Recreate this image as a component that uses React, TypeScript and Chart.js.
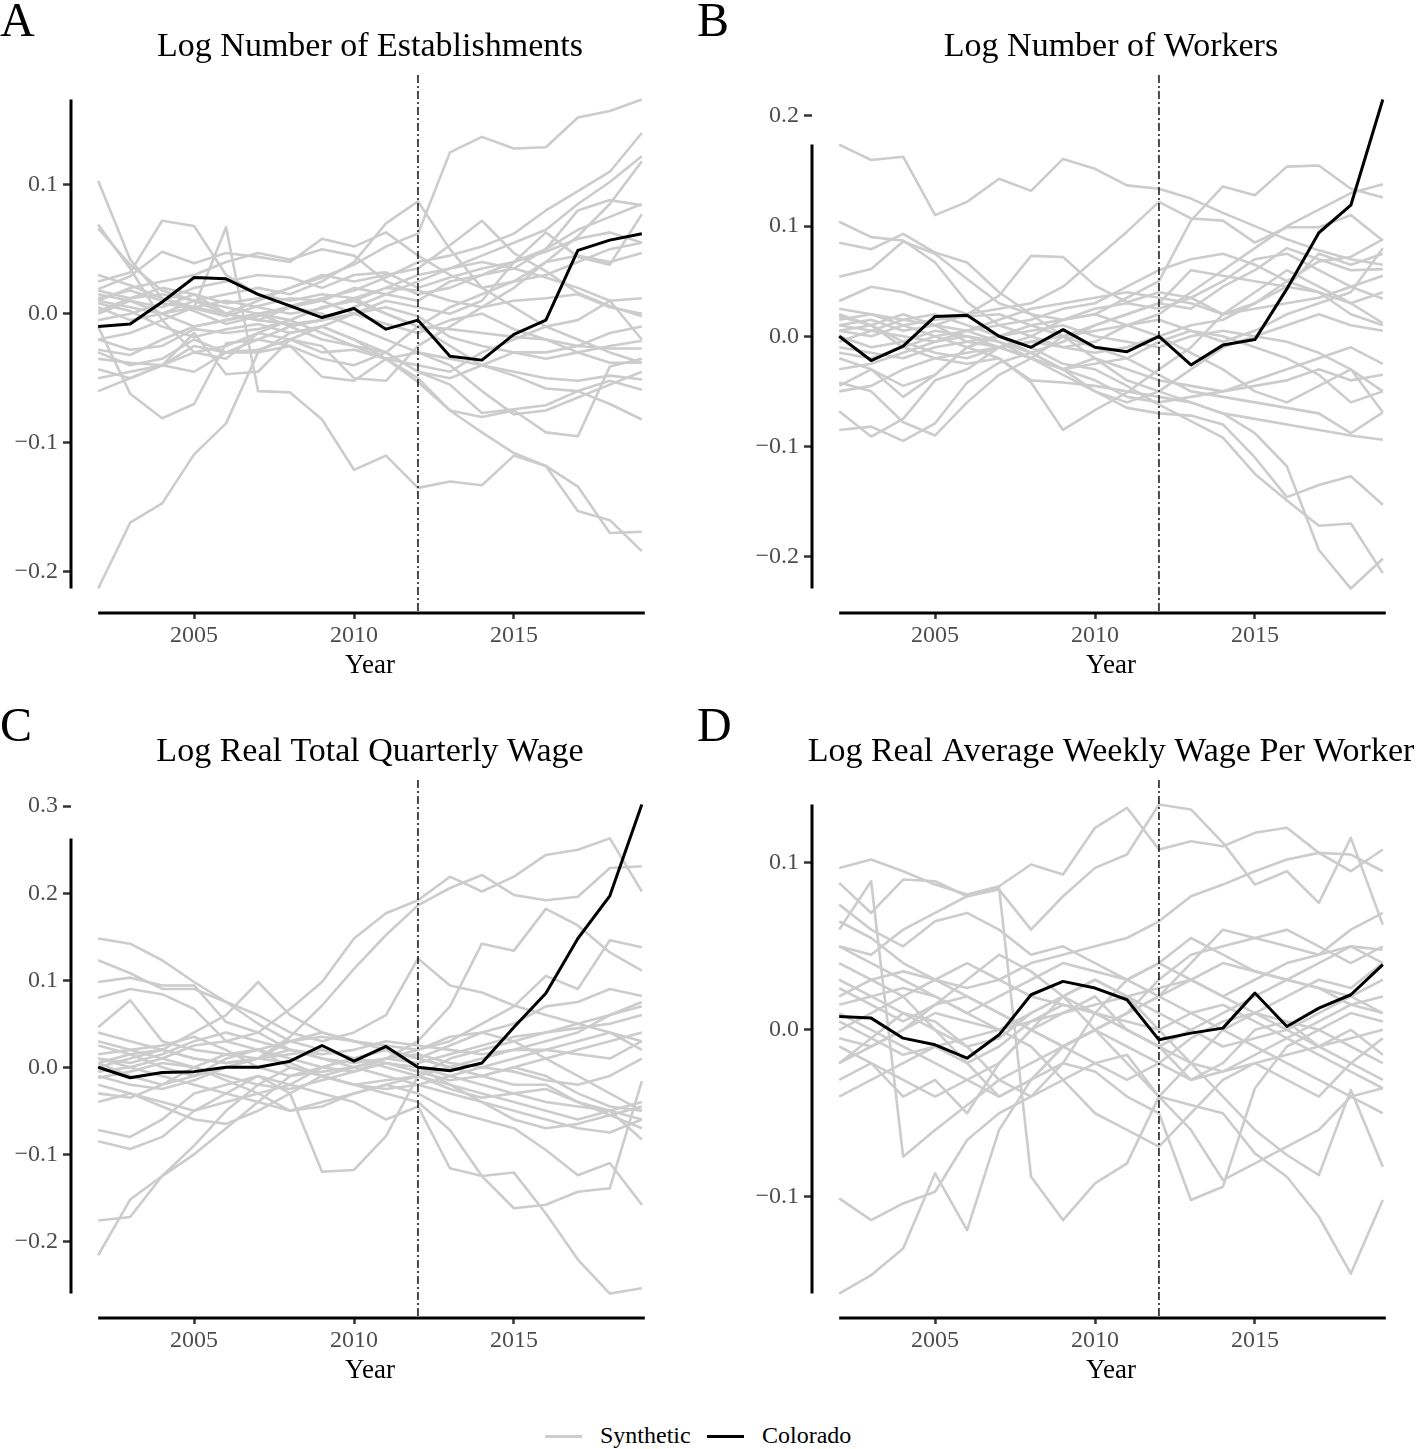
import React, { useEffect, useRef } from "react";
import { Chart, registerables } from "chart.js";

Chart.register(...registerables);

const years = [2002, 2003, 2004, 2005, 2006, 2007, 2008, 2009, 2010, 2011, 2012, 2013, 2014, 2015, 2016, 2017, 2018, 2019];
const treatmentYear = 2012;
const xTickValues = [2005, 2010, 2015];

const titleA = "Log Number of Establishments";
const titleB = "Log Number of Workers";
const titleC = "Log Real Total Quarterly Wage";
const titleD = "Log Real Average Weekly Wage Per Worker";

const yTicksA = [-0.2, -0.1, 0, 0.1];
const yTicksB = [-0.2, -0.1, 0, 0.1, 0.2];
const yTicksC = [-0.2, -0.1, 0, 0.1, 0.2, 0.3];
const yTicksD = [-0.1, 0, 0.1];

const legendLabels = ["Synthetic", "Colorado"];

const coloradoA = [-0.010, -0.008, 0.009, 0.028, 0.027, 0.015, 0.006, -0.003, 0.004, -0.012, -0.005, -0.033, -0.036, -0.016, -0.005, 0.049, 0.057, 0.062];
const syntheticA = [
  [0.018, 0.012, 0.020, 0.015, 0.008, 0.012, 0.020, 0.028, 0.038, 0.052, 0.062, 0.125, 0.137, 0.128, 0.129, 0.152, 0.157, 0.166],
  [0.103, 0.042, 0.012, 0.002, -0.008, -0.002, 0.006, 0.012, 0.018, 0.028, 0.040, 0.045, 0.052, 0.062, 0.080, 0.095, 0.110, 0.140],
  [0.069, 0.035, -0.005, -0.030, -0.035, -0.015, -0.005, 0.005, 0.010, 0.020, 0.030, 0.035, 0.045, 0.055, 0.065, 0.085, 0.102, 0.122],
  [0.066, 0.038, 0.018, 0.010, 0.005, 0.000, -0.010, -0.020, -0.025, -0.035, -0.053, -0.075, -0.092, -0.108, -0.118, -0.153, -0.160, -0.184],
  [0.025, 0.032, 0.072, 0.068, 0.030, 0.015, 0.010, 0.015, 0.012, 0.000, -0.010, -0.025, -0.040, -0.048, -0.058, -0.060, -0.052, -0.059],
  [0.019, 0.029, 0.048, 0.039, 0.047, 0.044, 0.040, 0.058, 0.052, 0.063, 0.045, 0.030, 0.020, 0.025, 0.040, 0.045, 0.040, 0.047],
  [-0.020, -0.015, -0.005, 0.005, 0.067, -0.060, -0.061, -0.082, -0.121, -0.110, -0.135, -0.130, -0.133, -0.110, -0.118, -0.134, -0.170, -0.169],
  [-0.213, -0.162, -0.147, -0.109, -0.085, -0.030, -0.015, -0.010, -0.020, -0.030, -0.045, -0.050, -0.040, -0.030, -0.035, -0.030, -0.025, -0.021],
  [0.010, 0.005, 0.000, 0.010, 0.015, 0.020, 0.015, 0.025, 0.040, 0.070, 0.087, 0.050, 0.020, 0.005, -0.010, -0.020, -0.030, -0.038],
  [0.005, -0.005, 0.000, 0.005, 0.000, 0.010, 0.020, 0.030, 0.025, 0.030, 0.035, 0.053, 0.072, 0.047, 0.033, 0.016, 0.006, -0.002],
  [-0.010, -0.062, -0.081, -0.070, -0.023, -0.020, -0.010, -0.005, 0.000, 0.010, 0.005, 0.000, 0.010, 0.040, 0.050, 0.080, 0.088, 0.084],
  [-0.043, -0.050, -0.040, -0.030, -0.025, -0.015, -0.020, -0.030, -0.028, -0.035, -0.040, -0.045, -0.030, -0.020, -0.010, -0.005, 0.010, 0.012],
  [-0.060, -0.050, -0.040, -0.015, -0.047, -0.045, -0.020, -0.025, -0.050, -0.052, -0.025, -0.010, 0.005, 0.020, 0.040, 0.060, 0.085, 0.118],
  [0.000, 0.010, 0.005, 0.015, 0.000, -0.005, 0.005, 0.010, 0.020, 0.015, 0.010, 0.025, 0.030, 0.040, 0.063, 0.044, 0.038, 0.077],
  [0.012, 0.018, 0.010, 0.020, 0.025, 0.030, 0.028, 0.020, 0.030, 0.032, 0.020, 0.028, 0.035, 0.040, 0.048, 0.058, 0.063, 0.055],
  [-0.005, 0.000, 0.008, 0.004, -0.002, 0.006, 0.012, 0.010, 0.000, -0.008, -0.015, -0.005, 0.000, -0.012, -0.020, -0.025, -0.015, -0.010],
  [0.008, 0.002, -0.010, -0.018, -0.012, -0.008, -0.015, -0.010, 0.000, 0.005, -0.002, -0.018, -0.025, -0.030, -0.030, -0.025, -0.027, -0.027],
  [-0.028, -0.032, -0.020, -0.010, -0.005, 0.000, 0.005, 0.000, -0.010, -0.020, -0.030, -0.040, -0.060, -0.078, -0.075, -0.065, -0.055, -0.045],
  [-0.030, -0.040, -0.035, -0.020, -0.030, -0.028, -0.020, -0.010, -0.020, -0.035, -0.050, -0.075, -0.080, -0.075, -0.092, -0.095, -0.041, -0.035],
  [0.015, 0.010, 0.000, -0.010, -0.005, 0.000, -0.005, -0.015, -0.025, -0.030, -0.045, -0.055, -0.077, -0.074, -0.071, -0.060, -0.070, -0.082],
  [-0.035, -0.038, -0.040, -0.025, -0.030, -0.030, -0.025, -0.035, -0.040, -0.030, -0.010, 0.005, 0.015, 0.025, 0.030, 0.040, 0.050, 0.055],
  [0.002, 0.012, 0.015, 0.010, 0.000, -0.005, -0.008, -0.005, 0.005, 0.015, 0.025, 0.035, 0.040, 0.035, 0.028, 0.020, 0.010, -0.020],
  [-0.020, -0.028, -0.025, -0.012, -0.015, -0.012, -0.005, 0.005, 0.010, 0.000, -0.010, -0.012, -0.015, -0.018, -0.020, -0.030, -0.038, -0.038],
  [0.030, 0.022, 0.012, 0.005, 0.010, 0.005, 0.000, 0.004, 0.012, 0.020, 0.018, 0.010, 0.005, 0.010, 0.012, 0.015, 0.005, 0.000],
  [0.010, 0.020, 0.025, 0.030, 0.040, 0.047, 0.042, 0.050, 0.045, 0.025, 0.015, 0.020, 0.030, 0.035, 0.050, 0.065, 0.075, 0.085],
  [-0.050, -0.045, -0.040, -0.045, -0.030, -0.020, -0.025, -0.049, -0.052, -0.035, -0.030, -0.035, -0.040, -0.045, -0.050, -0.052, -0.048, -0.051],
];

const coloradoB = [0.000, -0.022, -0.009, 0.018, 0.019, 0.000, -0.010, 0.006, -0.010, -0.014, 0.000, -0.026, -0.008, -0.003, 0.043, 0.094, 0.119, 0.215];
const syntheticB = [
  [0.174, 0.160, 0.163, 0.110, 0.122, 0.143, 0.132, 0.161, 0.152, 0.137, 0.134, 0.125, 0.112, 0.100, 0.088, 0.078, 0.070, 0.065],
  [0.104, 0.090, 0.087, 0.067, 0.031, 0.010, 0.000, -0.010, -0.005, 0.010, 0.020, 0.040, 0.060, 0.080, 0.100, 0.115, 0.130, 0.138],
  [0.085, 0.079, 0.093, 0.076, 0.067, 0.040, 0.020, 0.000, -0.020, -0.040, -0.050, -0.060, -0.070, -0.075, -0.080, -0.085, -0.090, -0.094],
  [0.054, 0.061, 0.086, 0.075, 0.052, 0.030, 0.020, 0.015, 0.020, 0.035, 0.050, 0.105, 0.136, 0.128, 0.154, 0.155, 0.134, 0.126],
  [0.032, 0.045, 0.040, 0.030, 0.020, 0.025, 0.030, 0.045, 0.070, 0.095, 0.122, 0.107, 0.105, 0.085, 0.099, 0.099, 0.110, 0.087],
  [0.010, 0.015, 0.005, 0.010, 0.020, 0.037, 0.073, 0.072, 0.046, 0.031, 0.040, 0.035, 0.020, 0.030, 0.045, 0.075, 0.065, 0.075],
  [-0.085, -0.082, -0.095, -0.079, -0.042, -0.024, -0.015, -0.005, 0.010, 0.020, 0.030, 0.025, 0.045, 0.060, 0.080, 0.070, 0.060, 0.061],
  [-0.068, -0.091, -0.075, -0.040, -0.030, -0.010, -0.020, -0.030, -0.020, -0.030, -0.040, -0.045, -0.050, -0.045, -0.040, -0.030, -0.040, -0.035],
  [-0.042, -0.050, -0.078, -0.090, -0.060, -0.035, -0.020, 0.000, 0.010, 0.020, 0.030, 0.060, 0.055, 0.050, 0.045, 0.040, 0.030, 0.012],
  [-0.045, -0.030, -0.055, -0.035, -0.010, 0.000, -0.010, -0.025, -0.030, -0.045, -0.062, -0.077, -0.092, -0.125, -0.149, -0.172, -0.170, -0.215],
  [0.020, 0.010, -0.010, -0.020, -0.025, -0.020, -0.040, -0.042, -0.045, -0.050, -0.055, -0.060, -0.070, -0.088, -0.118, -0.194, -0.229, -0.202],
  [0.000, -0.010, -0.005, 0.005, 0.000, -0.010, -0.020, -0.030, -0.050, -0.065, -0.070, -0.072, -0.080, -0.110, -0.146, -0.135, -0.127, -0.153],
  [0.015, 0.020, 0.010, 0.000, -0.010, -0.020, -0.042, -0.085, -0.067, -0.051, -0.030, -0.010, 0.020, 0.040, 0.060, 0.045, 0.030, 0.040],
  [0.005, 0.000, 0.010, 0.015, 0.018, 0.020, 0.010, 0.000, -0.010, -0.020, -0.035, -0.050, -0.055, -0.060, -0.065, -0.070, -0.088, -0.069],
  [-0.020, -0.030, -0.045, -0.035, -0.010, 0.000, 0.010, 0.015, 0.025, 0.030, 0.025, 0.035, 0.050, 0.070, 0.075, 0.060, 0.045, 0.055],
  [0.010, 0.005, 0.000, -0.005, 0.005, 0.015, 0.025, 0.030, 0.035, 0.040, 0.035, 0.030, 0.020, 0.025, 0.030, 0.035, 0.045, 0.034],
  [-0.010, -0.015, -0.020, -0.010, -0.005, 0.000, 0.005, 0.010, 0.000, -0.005, -0.010, 0.000, 0.005, 0.000, 0.010, 0.020, 0.010, 0.005],
  [-0.030, -0.025, -0.015, -0.005, 0.000, -0.005, -0.015, -0.030, -0.040, -0.055, -0.060, -0.055, -0.050, -0.040, -0.030, -0.020, -0.010, -0.025],
  [0.025, 0.020, 0.015, 0.010, 0.005, 0.010, 0.015, 0.025, 0.030, 0.045, 0.060, 0.070, 0.075, 0.065, 0.050, 0.040, 0.020, 0.010],
  [-0.005, 0.005, 0.015, 0.020, 0.010, 0.000, -0.015, -0.030, -0.025, -0.020, -0.005, 0.005, 0.000, -0.010, -0.020, -0.035, -0.060, -0.050],
  [0.018, 0.010, -0.005, -0.015, -0.020, -0.010, 0.000, 0.015, 0.020, 0.010, 0.000, -0.015, -0.030, -0.050, -0.060, -0.045, -0.030, -0.069],
  [-0.050, -0.045, -0.030, -0.020, -0.015, -0.010, -0.005, -0.010, -0.015, -0.010, 0.000, 0.010, 0.015, 0.030, 0.050, 0.068, 0.072, 0.088],
  [0.005, 0.010, 0.020, 0.010, -0.005, -0.010, -0.005, 0.000, 0.005, 0.010, 0.015, 0.005, -0.005, 0.005, 0.020, 0.030, 0.040, 0.080],
  [-0.015, -0.020, -0.010, 0.000, 0.005, -0.005, -0.020, -0.035, -0.050, -0.060, -0.050, -0.030, -0.010, 0.000, -0.005, -0.015, -0.030, -0.050],
];

const coloradoC = [0.000, -0.012, -0.006, -0.005, 0.000, 0.000, 0.007, 0.025, 0.007, 0.024, 0.000, -0.004, 0.005, 0.046, 0.085, 0.148, 0.197, 0.302];
const syntheticC = [
  [0.148, 0.142, 0.123, 0.098, 0.075, 0.050, 0.030, 0.020, 0.010, 0.020, 0.000, -0.010, -0.020, -0.030, -0.040, -0.045, -0.050, -0.083],
  [0.123, 0.108, 0.090, 0.090, 0.075, 0.060, 0.040, 0.030, 0.040, 0.060, 0.125, 0.094, 0.086, 0.071, 0.060, 0.050, 0.040, 0.030],
  [0.098, 0.103, 0.094, 0.094, 0.052, 0.040, 0.020, 0.010, 0.000, -0.010, -0.020, -0.030, -0.040, -0.050, -0.060, -0.070, -0.075, -0.060],
  [0.080, 0.090, 0.084, 0.067, 0.030, 0.040, 0.067, 0.098, 0.148, 0.177, 0.192, 0.219, 0.202, 0.219, 0.244, 0.250, 0.263, 0.202],
  [0.046, 0.077, 0.030, 0.020, 0.015, 0.010, 0.035, 0.071, 0.113, 0.152, 0.186, 0.206, 0.221, 0.198, 0.192, 0.196, 0.229, 0.231],
  [-0.216, -0.152, -0.125, -0.100, -0.070, -0.040, -0.010, 0.000, 0.010, 0.020, 0.010, 0.000, -0.010, -0.020, -0.020, -0.040, -0.050, -0.060],
  [-0.176, -0.172, -0.125, -0.090, -0.050, -0.020, 0.000, -0.010, -0.020, -0.030, -0.040, -0.072, -0.125, -0.162, -0.158, -0.143, -0.139, -0.016],
  [-0.072, -0.080, -0.060, -0.030, -0.020, -0.010, -0.030, -0.120, -0.118, -0.079, -0.010, 0.010, 0.020, 0.030, 0.040, 0.050, 0.060, 0.075],
  [-0.085, -0.094, -0.080, -0.050, -0.030, -0.010, -0.020, -0.030, -0.040, -0.060, -0.045, -0.116, -0.125, -0.121, -0.168, -0.221, -0.260, -0.254],
  [0.010, 0.000, -0.010, -0.020, -0.030, -0.040, -0.050, -0.040, -0.030, -0.020, -0.030, -0.050, -0.060, -0.070, -0.095, -0.124, -0.110, -0.158],
  [0.030, 0.020, 0.025, 0.035, 0.020, 0.000, -0.010, -0.005, 0.000, 0.010, 0.030, 0.070, 0.142, 0.134, 0.182, 0.163, 0.132, 0.111],
  [0.010, 0.005, 0.015, 0.030, 0.040, 0.030, 0.020, 0.010, 0.005, 0.010, 0.020, 0.030, 0.050, 0.070, 0.105, 0.090, 0.146, 0.138],
  [-0.010, -0.020, -0.025, -0.015, 0.000, 0.010, 0.030, 0.040, 0.030, 0.020, 0.010, 0.025, 0.040, 0.050, 0.070, 0.075, 0.090, 0.082],
  [0.015, 0.020, 0.010, 0.000, -0.015, -0.030, -0.050, -0.045, -0.030, -0.020, -0.010, 0.000, 0.010, 0.020, 0.020, 0.030, 0.040, 0.020],
  [-0.005, 0.000, 0.010, 0.025, 0.030, 0.020, 0.000, -0.010, -0.020, -0.015, -0.010, -0.020, -0.030, -0.040, -0.050, -0.060, -0.050, -0.040],
  [0.005, 0.015, 0.020, 0.010, 0.005, 0.010, 0.015, 0.020, 0.010, 0.000, -0.010, -0.025, -0.035, -0.030, -0.025, -0.040, -0.055, -0.070],
  [-0.020, -0.030, -0.040, -0.050, -0.040, -0.030, -0.020, 0.000, 0.010, 0.005, -0.005, -0.015, -0.010, 0.000, -0.010, -0.030, -0.045, -0.050],
  [-0.030, -0.035, -0.020, 0.000, 0.015, 0.020, 0.010, 0.000, -0.005, 0.010, 0.015, 0.005, 0.000, 0.010, 0.020, 0.015, 0.010, 0.030],
  [0.025, 0.015, 0.000, -0.010, 0.000, 0.010, 0.005, -0.010, -0.020, -0.025, -0.020, -0.010, 0.000, -0.005, -0.015, -0.020, -0.010, 0.010],
  [0.000, 0.010, 0.020, 0.040, 0.060, 0.098, 0.060, 0.040, 0.030, 0.020, 0.010, 0.000, -0.010, 0.000, 0.010, 0.020, 0.030, 0.040],
  [-0.040, -0.030, -0.045, -0.060, -0.065, -0.050, -0.030, -0.010, 0.000, 0.010, 0.005, 0.015, 0.025, 0.035, 0.040, 0.045, 0.050, 0.060],
  [0.005, -0.010, -0.020, -0.010, 0.010, 0.020, 0.030, 0.035, 0.030, 0.025, 0.020, 0.035, 0.040, 0.030, 0.010, -0.010, -0.030, -0.050],
  [-0.012, -0.005, 0.005, 0.000, -0.010, -0.020, -0.025, -0.015, -0.005, 0.005, 0.000, -0.020, -0.040, -0.060, -0.070, -0.065, -0.055, -0.045],
  [0.040, 0.030, 0.020, 0.010, 0.005, 0.010, 0.020, 0.015, 0.020, 0.030, 0.025, 0.020, 0.015, 0.020, 0.030, 0.040, 0.060, 0.070],
];

const coloradoD = [0.008, 0.007, -0.005, -0.009, -0.017, -0.003, 0.021, 0.029, 0.025, 0.018, -0.006, -0.002, 0.001, 0.022, 0.002, 0.013, 0.021, 0.039];
const syntheticD = [
  [0.097, 0.102, 0.095, 0.087, 0.081, 0.086, 0.099, 0.093, 0.121, 0.133, 0.108, 0.113, 0.110, 0.118, 0.121, 0.106, 0.095, 0.108],
  [0.088, 0.070, 0.090, 0.089, 0.080, 0.084, 0.060, 0.080, 0.097, 0.105, 0.135, 0.132, 0.112, 0.087, 0.095, 0.076, 0.115, 0.063],
  [0.060, 0.089, -0.076, -0.060, -0.045, -0.030, -0.020, -0.010, 0.000, 0.010, 0.020, 0.030, 0.040, 0.035, 0.030, 0.025, 0.020, 0.010],
  [0.050, 0.045, 0.060, 0.070, 0.080, 0.085, -0.088, -0.114, -0.092, -0.080, -0.040, -0.020, 0.000, 0.010, 0.020, 0.030, 0.025, 0.040],
  [-0.158, -0.147, -0.131, -0.086, -0.120, -0.060, -0.030, -0.010, 0.000, -0.010, -0.020, -0.030, -0.025, -0.020, -0.015, -0.010, -0.005, 0.000],
  [-0.101, -0.114, -0.104, -0.097, -0.066, -0.050, -0.040, -0.030, -0.020, -0.015, -0.040, -0.060, -0.090, -0.080, -0.070, -0.060, -0.040, -0.035],
  [0.010, 0.000, -0.010, -0.020, -0.030, -0.040, -0.030, -0.020, -0.025, -0.040, -0.050, -0.102, -0.094, -0.035, -0.010, 0.000, 0.010, 0.005],
  [-0.020, -0.010, 0.000, 0.010, 0.005, 0.000, 0.010, 0.020, 0.000, -0.020, -0.040, -0.045, -0.050, -0.074, -0.088, -0.112, -0.146, -0.102],
  [0.030, 0.020, 0.010, 0.000, -0.010, -0.005, 0.010, 0.020, 0.030, 0.020, 0.000, -0.020, -0.040, -0.060, -0.075, -0.087, -0.036, -0.082],
  [0.020, 0.030, 0.035, 0.030, 0.025, 0.030, 0.040, 0.045, 0.050, 0.055, 0.065, 0.080, 0.087, 0.095, 0.102, 0.106, 0.105, 0.095],
  [0.065, 0.055, 0.040, 0.030, 0.020, 0.010, 0.000, -0.010, 0.000, 0.010, 0.020, 0.040, 0.060, 0.055, 0.050, 0.045, 0.060, 0.070],
  [0.075, 0.060, 0.050, 0.065, 0.070, 0.060, 0.045, 0.050, 0.040, 0.030, 0.040, 0.055, 0.045, 0.035, 0.030, 0.040, 0.050, 0.040],
  [-0.040, -0.030, -0.020, -0.010, -0.005, 0.000, 0.005, 0.010, 0.015, 0.020, 0.025, 0.030, 0.020, 0.010, 0.005, 0.000, -0.010, -0.020],
  [0.000, 0.010, 0.020, 0.030, 0.040, 0.030, 0.020, 0.015, 0.010, 0.000, -0.010, 0.000, 0.010, 0.020, 0.030, 0.025, 0.015, 0.010],
  [-0.010, -0.020, -0.030, -0.040, -0.030, -0.020, 0.000, 0.020, 0.030, 0.020, 0.010, 0.000, -0.010, -0.005, 0.000, 0.010, 0.020, 0.030],
  [0.040, 0.030, 0.020, 0.000, -0.020, -0.040, -0.030, -0.010, 0.000, 0.010, 0.030, 0.045, 0.050, 0.055, 0.060, 0.050, 0.040, 0.050],
  [-0.030, -0.020, -0.040, -0.030, -0.050, -0.020, 0.000, 0.010, 0.020, 0.000, -0.010, -0.030, -0.020, 0.000, 0.005, -0.010, -0.020, -0.005],
  [0.015, 0.020, 0.025, 0.020, 0.010, 0.020, 0.030, 0.040, 0.035, 0.030, 0.020, 0.010, 0.000, -0.010, -0.020, -0.030, -0.040, -0.050],
  [-0.005, -0.010, 0.000, 0.015, 0.020, 0.010, 0.000, -0.010, -0.020, -0.030, -0.020, -0.005, 0.005, 0.010, 0.000, -0.010, 0.000, -0.015],
  [0.050, 0.040, 0.030, 0.020, 0.010, 0.000, -0.010, -0.030, -0.050, -0.060, -0.070, -0.050, -0.030, -0.020, -0.030, -0.040, -0.020, -0.030],
  [-0.020, -0.005, 0.010, 0.005, -0.010, -0.030, -0.040, -0.020, 0.010, 0.030, 0.040, 0.030, 0.020, 0.030, 0.040, 0.045, 0.050, 0.048],
  [0.005, -0.005, -0.015, -0.010, -0.020, -0.010, 0.005, 0.015, 0.010, 0.005, 0.000, 0.010, 0.015, 0.005, -0.005, -0.015, -0.025, -0.035],
  [0.025, 0.015, 0.005, 0.015, 0.030, 0.045, 0.035, 0.020, 0.010, 0.000, -0.010, -0.020, -0.025, -0.015, -0.005, 0.005, 0.015, 0.020],
];

const SERIF = "'Liberation Serif', 'Times New Roman', serif";
const GRAY = "#cccccc";

type PanelCfg = {
  letter: string;
  title: string;
  colorado: number[];
  synthetic: number[][];
  yTicks: number[];
  left: number;
  top: number;
  width: number;
  padLeft: number;
  padRight: number;
};

const toXY = (vals: number[]) => years.map((x, i) => ({ x, y: vals[i] }));

const fmtY = (v: number) => {
  if (Math.abs(v) < 1e-9) return "0.0";
  return (v < 0 ? "\u2212" : "") + Math.abs(v).toFixed(1);
};

const framePlugin = {
  id: "frame",
  afterDatasetsDraw(chart: any) {
    const o = chart.options.plugins.frame;
    const { ctx, chartArea, scales } = chart;
    const xs = scales.x;
    const ys = scales.y;
    ctx.save();
    const vx = xs.getPixelForValue(o.vline);
    ctx.strokeStyle = "#000";
    ctx.lineWidth = 1.4;
    ctx.setLineDash([8, 3, 2, 3]);
    ctx.beginPath();
    ctx.moveTo(vx, chartArea.top);
    ctx.lineTo(vx, chartArea.bottom);
    ctx.stroke();
    ctx.setLineDash([]);
    ctx.lineWidth = 3;
    ctx.lineCap = "butt";
    ctx.beginPath();
    ctx.moveTo(chartArea.left, ys.getPixelForValue(o.frameMax));
    ctx.lineTo(chartArea.left, ys.getPixelForValue(o.frameMin));
    ctx.stroke();
    ctx.beginPath();
    ctx.moveTo(xs.getPixelForValue(o.xFirst), chartArea.bottom);
    ctx.lineTo(xs.getPixelForValue(o.xLast) + 3, chartArea.bottom);
    ctx.stroke();
    const cx = (chartArea.left + chartArea.right) / 2;
    ctx.fillStyle = "#000";
    ctx.textAlign = "center";
    ctx.textBaseline = "alphabetic";
    ctx.font = `34px ${SERIF}`;
    ctx.fillText(o.title, cx, 56);
    ctx.font = `27px ${SERIF}`;
    ctx.fillText("Year", cx, chartArea.bottom + 60);
    ctx.textAlign = "left";
    ctx.font = `48px ${SERIF}`;
    ctx.fillText(o.letter, 0, 36);
    ctx.restore();
  },
};

function Panel({ cfg }: { cfg: PanelCfg }) {
  const ref = useRef<HTMLCanvasElement | null>(null);
  useEffect(() => {
    if (!ref.current) return;
    const all = [...cfg.colorado, ...cfg.synthetic.flat()];
    const dMin = Math.min(...all);
    const dMax = Math.max(...all);
    const pad = (dMax - dMin) * 0.05;
    const gAll = cfg.synthetic.flat();
    const xPad = (years[years.length - 1] - years[0]) * 0.05;
    const datasets: any[] = [
      {
        label: legendLabels[1],
        data: toXY(cfg.colorado),
        borderColor: "#000000",
        borderWidth: 3,
        pointRadius: 0,
        borderJoinStyle: "round",
        tension: 0,
      },
      ...cfg.synthetic.map((s) => ({
        label: legendLabels[0],
        data: toXY(s),
        borderColor: GRAY,
        borderWidth: 2.6,
        pointRadius: 0,
        borderJoinStyle: "round",
        tension: 0,
      })),
    ];
    const tickFont = { family: SERIF, size: 24 };
    const chart = new Chart(ref.current, {
      type: "line",
      data: { datasets },
      options: {
        responsive: false,
        animation: false,
        devicePixelRatio: 1,
        layout: { padding: { left: cfg.padLeft, right: cfg.padRight, top: 75, bottom: 0 } },
        plugins: {
          legend: { display: false },
          tooltip: { enabled: false },
          title: { display: false },
          frame: {
            vline: treatmentYear,
            frameMin: Math.min(...gAll),
            frameMax: Math.max(...gAll),
            xFirst: years[0],
            xLast: years[years.length - 1],
            title: cfg.title,
            letter: cfg.letter,
          },
        } as any,
        scales: {
          x: {
            type: "linear",
            min: years[0] - xPad,
            max: years[years.length - 1] + xPad,
            afterBuildTicks: (s: any) => {
              s.ticks = xTickValues.map((v) => ({ value: v }));
            },
            afterFit: (s: any) => {
              s.height = 92;
            },
            ticks: {
              callback: (v: any) => String(v),
              color: "#4d4d4d",
              font: tickFont,
              padding: 2,
              autoSkip: false,
              maxRotation: 0,
            },
            grid: { display: true, drawOnChartArea: false, drawTicks: true, tickLength: 6, tickWidth: 2.5, tickColor: "#333333" },
            border: { display: false },
          },
          y: {
            type: "linear",
            min: dMin - pad,
            max: dMax + pad,
            afterBuildTicks: (s: any) => {
              s.ticks = cfg.yTicks.map((v) => ({ value: v }));
            },
            afterFit: (s: any) => {
              s.width = 71;
            },
            ticks: {
              callback: (v: any) => fmtY(Number(v)),
              color: "#4d4d4d",
              font: tickFont,
              padding: 5,
              autoSkip: false,
            },
            grid: { display: true, drawOnChartArea: false, drawTicks: true, tickLength: 8, tickWidth: 2.5, tickColor: "#333333" },
            border: { display: false },
          },
        },
      },
      plugins: [framePlugin],
    } as any);
    return () => chart.destroy();
  }, []);
  return (
    <canvas
      ref={ref}
      width={cfg.width}
      height={705}
      style={{ position: "absolute", left: cfg.left, top: cfg.top, width: cfg.width, height: 705, display: "block" }}
    />
  );
}

const panels: PanelCfg[] = [
  { letter: "A", title: titleA, colorado: coloradoA, synthetic: syntheticA, yTicks: yTicksA, left: 0, top: 0, width: 697, padLeft: 0, padRight: 28 },
  { letter: "B", title: titleB, colorado: coloradoB, synthetic: syntheticB, yTicks: yTicksB, left: 697, top: 0, width: 721, padLeft: 44, padRight: 8 },
  { letter: "C", title: titleC, colorado: coloradoC, synthetic: syntheticC, yTicks: yTicksC, left: 0, top: 705, width: 697, padLeft: 0, padRight: 28 },
  { letter: "D", title: titleD, colorado: coloradoD, synthetic: syntheticD, yTicks: yTicksD, left: 697, top: 705, width: 721, padLeft: 44, padRight: 8 },
];

export default function App() {
  const legendText: React.CSSProperties = {
    position: "absolute",
    top: 1423,
    fontFamily: SERIF,
    fontSize: 24,
    lineHeight: "24px",
    color: "#000",
    whiteSpace: "nowrap",
  };
  return (
    <div style={{ position: "absolute", left: 0, top: 0, width: 1418, height: 1449, background: "#fff", overflow: "hidden" }}>
      {panels.map((p) => (
        <Panel key={p.letter} cfg={p} />
      ))}
      <div style={{ position: "absolute", left: 545, top: 1435, width: 37, height: 3, background: GRAY }} />
      <span style={{ ...legendText, left: 600 }}>{legendLabels[0]}</span>
      <div style={{ position: "absolute", left: 707, top: 1435, width: 37, height: 3, background: "#000" }} />
      <span style={{ ...legendText, left: 762 }}>{legendLabels[1]}</span>
    </div>
  );
}
